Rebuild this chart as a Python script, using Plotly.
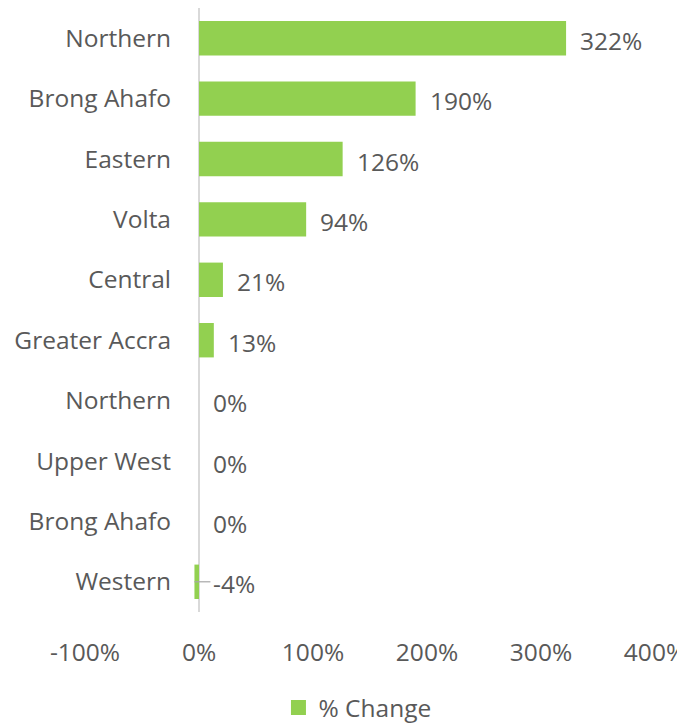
import plotly.graph_objects as go

regions = ["Northern", "Brong Ahafo", "Eastern", "Volta", "Central",
           "Greater Accra", "Northern", "Upper West", "Brong Ahafo", "Western"]
pct_change = [322, 190, 126, 94, 21, 13, 0, 0, 0, -4]
x_ticks = [-100, 0, 100, 200, 300, 400]

GREEN = "#92D050"
TXT = "#595959"
FONT = "Open Sans"
FS = 24.5

idx = list(range(len(regions)))

fig = go.Figure()
fig.add_trace(go.Bar(
    x=pct_change, y=idx, orientation="h", name="% Change",
    marker=dict(color=GREEN, line=dict(width=0)), width=0.57,
    hoverinfo="skip", showlegend=False,
))
# legend entry with a larger square swatch
fig.add_trace(go.Scatter(
    x=[None], y=[None], mode="markers", name="% Change",
    marker=dict(symbol="square", size=15, color=GREEN, line=dict(width=0)),
    showlegend=True, hoverinfo="skip",
))

for i, v in zip(idx, pct_change):
    fig.add_annotation(x=max(v, 0), y=i, text=f"{v}%", showarrow=False,
                       xanchor="left", yanchor="middle", xshift=12, yshift=-2,
                       font=dict(family=FONT, size=FS, color=TXT))
    if v < 0:
        fig.add_shape(type="line", x0=v, x1=10, y0=i, y1=i,
                      line=dict(color="#A6A6A6", width=1.2))

fig.update_layout(
    width=677, height=730,
    margin=dict(l=77, r=30, t=0, b=126),
    plot_bgcolor="white", paper_bgcolor="white",
    font=dict(family=FONT, size=FS, color=TXT),
    showlegend=True,
    legend=dict(orientation="h", x=0.478, xanchor="center", y=-0.1954, yanchor="bottom",
                font=dict(family=FONT, size=FS, color=TXT), itemwidth=30),
    xaxis=dict(range=[-100, 400], tickvals=x_ticks, automargin=False,
               ticktext=[f"{t}%" for t in x_ticks], ticklabeloverflow="allow",
               showgrid=False, zeroline=True, zerolinecolor="#D9D9D9", zerolinewidth=1.5,
               showline=False, ticks="", ticklabelstandoff=23,
               tickfont=dict(family=FONT, size=FS, color=TXT)),
    yaxis=dict(tickvals=idx, ticktext=regions,
               range=[len(regions) - 0.5, -0.5], automargin=False,
               anchor="free", position=113 / 570, showgrid=False, zeroline=False,
               showline=False, ticks="", ticklabelstandoff=27,
               tickfont=dict(family=FONT, size=FS, color=TXT)),
)

fig.write_html("out.html")
